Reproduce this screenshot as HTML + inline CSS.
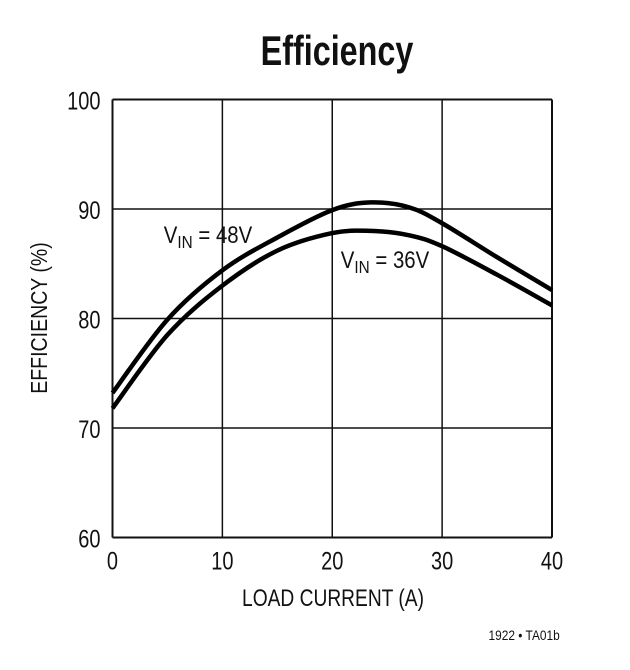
<!DOCTYPE html>
<html><head><meta charset="utf-8"><style>
body{margin:0;background:#fff;}
svg text{font-family:"Liberation Sans Narrow","Liberation Sans",sans-serif;fill:#111;transform-box:fill-box;transform-origin:center;}
.c{transform:scaleX(0.8);}
</style></head><body>
<svg width="630" height="665" xmlns="http://www.w3.org/2000/svg">
<text class="c" x="337" y="65" text-anchor="middle" font-size="42" font-weight="bold" style="transform:scaleX(0.77)">Efficiency</text>
<g id="grid"></g>
<g id="curves"></g>
<text class="c" x="156" y="243" font-size="24" style="transform:scaleX(0.85)">V<tspan font-size="18" dy="5">IN</tspan><tspan dy="-5"> = 48V</tspan></text>
<text class="c" x="333" y="268" font-size="24" style="transform:scaleX(0.85)">V<tspan font-size="18" dy="5">IN</tspan><tspan dy="-5"> = 36V</tspan></text>
<text class="c" x="333" y="606" text-anchor="middle" font-size="24">LOAD CURRENT (A)</text>
<g transform="translate(47,318) rotate(-90)"><text class="c" x="0" y="0" text-anchor="middle" font-size="23" style="transform:scaleX(0.85)">EFFICIENCY (%)</text></g>
<text class="c" x="566" y="640" text-anchor="end" font-size="14" style="transform:scaleX(0.85)">1922 • TA01b</text>
</svg>
<script>
const xTicks=[0,10,20,30,40];
const yTicks=[60,70,80,90,100];
const loadCurrent=[0,5,10,15,20,23.5,27,30,35,40];
const eff48=[73.2,79.9,84.4,87.4,89.9,90.6,90.15,88.7,85.6,82.6];
const eff36=[71.8,78.5,83.0,86.2,87.8,88.0,87.6,86.6,84.0,81.2];
const X0=112.5,X1=552,Y0=537.5,Y1=99.5;
function sx(v){return X0+(v-0)/(40-0)*(X1-X0);}
function sy(v){return Y0-(v-60)/(100-60)*(Y0-Y1);}
const NS="http://www.w3.org/2000/svg";
const svg=document.querySelector('svg');
const grid=document.getElementById('grid');
function mk(t,a,p){const e=document.createElementNS(NS,t);for(const k in a)e.setAttribute(k,a[k]);p.appendChild(e);return e;}
xTicks.forEach(v=>{
 const l=mk('line',{x1:sx(v),x2:sx(v),y1:Y1,y2:Y0,stroke:'#111','stroke-width':(v==0||v==40)?2:1.5},grid);
 
 
 const t=mk('text',{x:sx(v),y:Y0+32,'text-anchor':'middle','font-size':25,'class':'c'},svg);
 t.textContent=v;
 
 
});
yTicks.forEach(v=>{
 const l=mk('line',{x1:X0,x2:X1,y1:sy(v),y2:sy(v),stroke:'#111','stroke-width':(v==60||v==100)?2:1.5},grid);
 
 
 const t=mk('text',{x:X0-12,y:sy(v)+10,'text-anchor':'end','font-size':25,'class':'c'},svg);
 t.setAttribute('style','transform-origin:right center');
 t.textContent=v;
 
 
});
function pathFor(ys){
 const p=loadCurrent.map((x,i)=>[sx(x),sy(ys[i])]);
 let d='M'+p[0][0]+','+p[0][1];
 for(let i=0;i<p.length-1;i++){
  const a=p[i-1]||p[i],b=p[i],c=p[i+1],e=p[i+2]||c;
  d+=' C'+(b[0]+(c[0]-a[0])/6)+','+(b[1]+(c[1]-a[1])/6)+' '+(c[0]-(e[0]-b[0])/6)+','+(c[1]-(e[1]-b[1])/6)+' '+c[0]+','+c[1];
 }
 return d;
}
const cg=document.getElementById('curves');
const c1=mk('path',{d:pathFor(eff48),fill:'none',stroke:'#000','stroke-width':4.5},cg);


const c2=mk('path',{d:pathFor(eff36),fill:'none',stroke:'#000','stroke-width':4.5},cg);


</script>
</body></html>
